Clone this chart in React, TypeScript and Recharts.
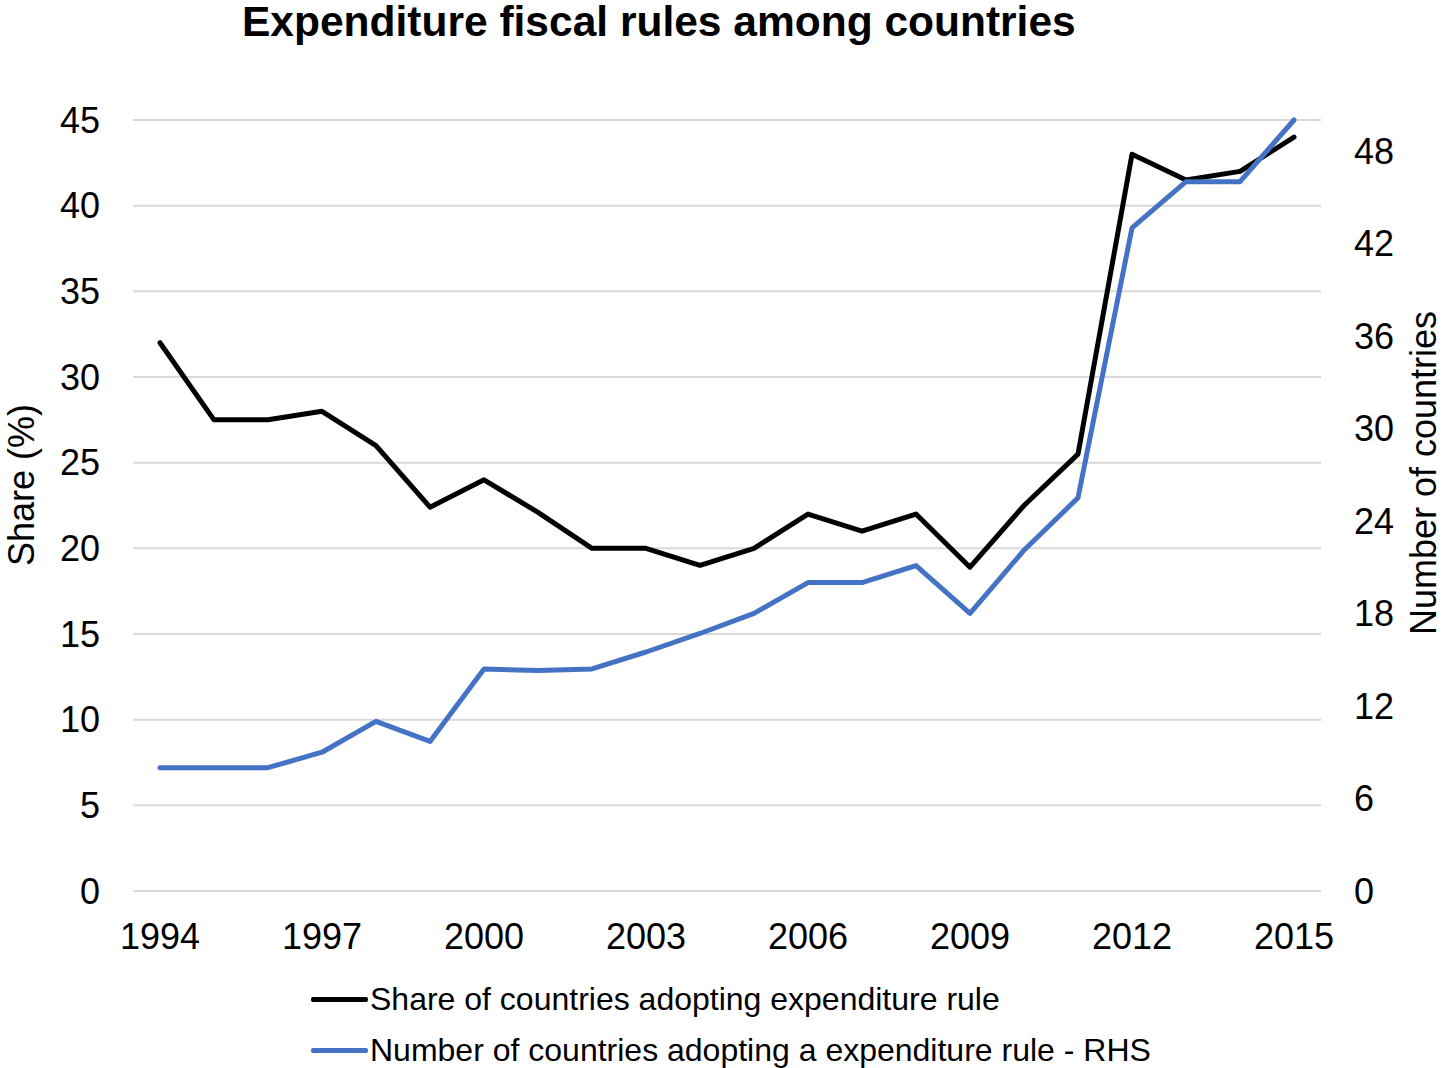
import { LineChart, Line, XAxis, YAxis, CartesianGrid } from "recharts";

const years = [
  "1994", "1995", "1996", "1997", "1998", "1999", "2000", "2001",
  "2002", "2003", "2004", "2005", "2006", "2007", "2008", "2009",
  "2010", "2011", "2012", "2013", "2014", "2015",
];

// share of countries (%), left axis
const shareValues = [
  32, 27.5, 27.5, 28, 26, 22.4, 24, 22.1, 20, 20, 19, 20, 22, 21, 22, 18.9,
  22.5, 25.5, 43, 41.5, 42, 44,
];

// number of countries, right axis
const countValues = [
  8, 8, 8, 9, 11, 9.7, 14.4, 14.3, 14.4, 15.5, 16.7, 18, 20, 20, 21.1, 18,
  22.1, 25.5, 43, 46, 46, 50,
];

const leftTicks = [0, 5, 10, 15, 20, 25, 30, 35, 40, 45];
const rightTicks = [0, 6, 12, 18, 24, 30, 36, 42, 48];

const FONT = "'Liberation Sans', Arial, sans-serif";
const BLACK = "#000000";
const BLUE = "#4472C4";

const tickStyle = { fontSize: 36, fill: "#000", fontFamily: FONT };

export default function App() {
  const data = years.map((year, i) => ({
    year,
    share: shareValues[i],
    count: countValues[i],
  }));

  const rotated = (cx: number, cy: number) => ({
    position: "absolute" as const,
    left: cx,
    top: cy,
    transform: "translate(-50%, -50%) rotate(-90deg)",
    whiteSpace: "nowrap" as const,
    fontSize: 36,
    lineHeight: 0.9,
  });

  return (
    <div
      style={{
        position: "absolute",
        left: 0,
        top: 0,
        width: 1443,
        height: 1068,
        background: "#fff",
        fontFamily: FONT,
        color: "#000",
      }}
    >
      <div
        style={{
          position: "absolute",
          left: 242,
          top: 1,
          fontSize: 42.5,
          fontWeight: "bold",
          lineHeight: 1,
          whiteSpace: "nowrap",
        }}
      >
        Expenditure fiscal rules among countries
      </div>

      <LineChart
        width={1443}
        height={1068}
        data={data}
        margin={{ top: 120, right: 0, bottom: 117, left: 0 }}
      >
        <CartesianGrid
          yAxisId="left"
          vertical={false}
          stroke="#d9d9d9"
          strokeWidth={2}
        />
        <XAxis
          dataKey="year"
          interval={2}
          height={60}
          axisLine={false}
          tickLine={false}
          tickSize={0}
          tickMargin={32}
          padding={{ left: 27, right: 27 }}
          tick={tickStyle}
        />
        <YAxis
          yAxisId="left"
          width={133}
          domain={[0, 45]}
          ticks={leftTicks}
          axisLine={false}
          tickLine={false}
          tickSize={0}
          tickMargin={33}
          tick={tickStyle}
        />
        <YAxis
          yAxisId="right"
          orientation="right"
          width={122}
          domain={[0, 50]}
          ticks={rightTicks}
          axisLine={false}
          tickLine={false}
          tickSize={0}
          tickMargin={33}
          tick={{ ...tickStyle, textAnchor: "start" }}
        />
        <Line
          yAxisId="left"
          dataKey="share"
          stroke={BLACK}
          strokeWidth={5}
          strokeLinecap="round"
          strokeLinejoin="round"
          dot={false}
          isAnimationActive={false}
        />
        <Line
          yAxisId="right"
          dataKey="count"
          stroke={BLUE}
          strokeWidth={5}
          strokeLinecap="round"
          strokeLinejoin="round"
          dot={false}
          isAnimationActive={false}
        />
      </LineChart>

      <div style={rotated(22, 485)}>Share (%)</div>
      <div style={rotated(1424, 473)}>Number of countries</div>

      {[
        { color: BLACK, label: "Share of countries adopting expenditure rule", y: 999 },
        { color: BLUE, label: "Number of countries adopting a expenditure rule - RHS", y: 1050 },
      ].map((item) => (
        <div
          key={item.label}
          style={{
            position: "absolute",
            left: 311,
            top: item.y - 16,
            height: 32,
            display: "flex",
            alignItems: "center",
            fontSize: 32,
            lineHeight: 1,
            whiteSpace: "nowrap",
          }}
        >
          <span
            style={{
              display: "inline-block",
              width: 57,
              height: 5,
              borderRadius: 2,
              background: item.color,
              marginRight: 2,
            }}
          />
          <span>{item.label}</span>
        </div>
      ))}
    </div>
  );
}
